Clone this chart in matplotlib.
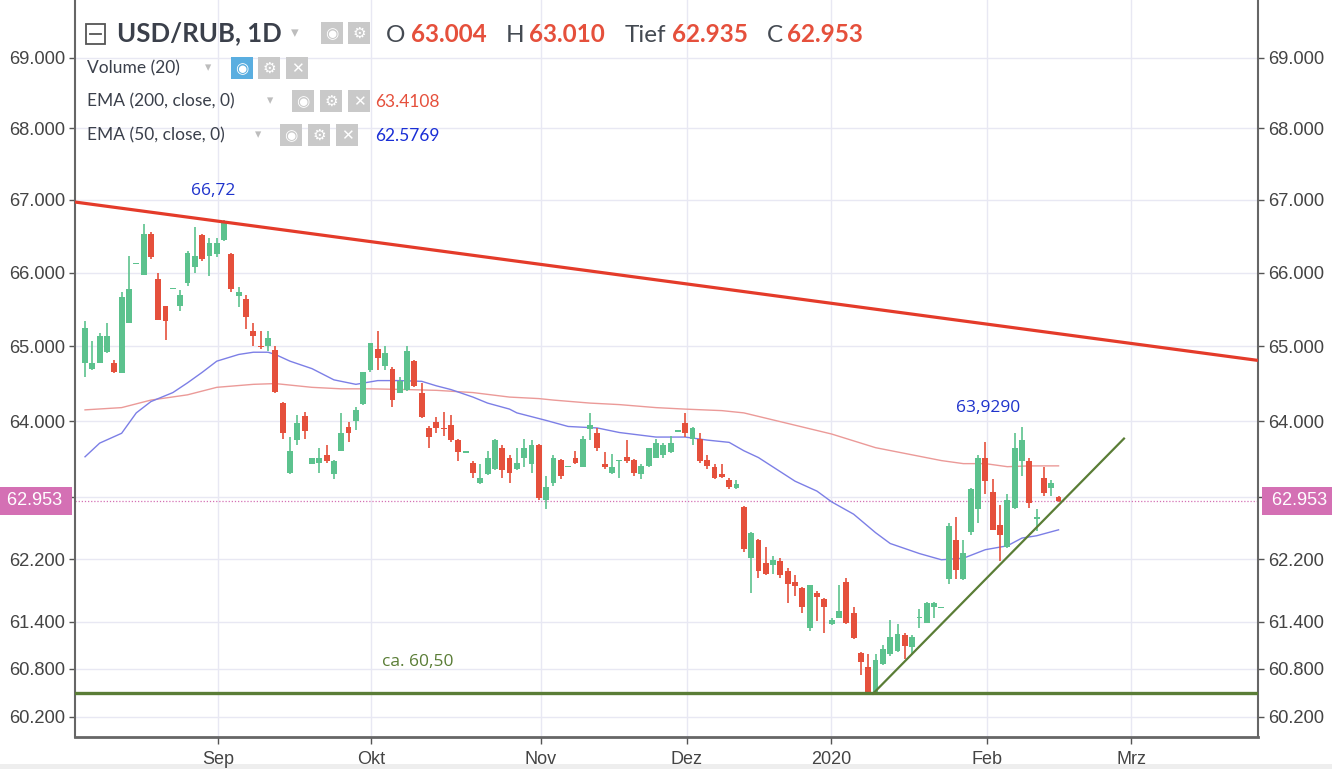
import matplotlib
matplotlib.use("Agg")
import matplotlib.pyplot as plt
from matplotlib.patches import Rectangle
from matplotlib.lines import Line2D
from matplotlib.ticker import FixedLocator, FixedFormatter, NullLocator
import numpy as np

# ---------------- data ----------------
opens = [64.78, 64.70, 64.78, 64.92, 64.78, 64.64, 65.32, 66.11, 65.97, 66.53,
         65.91, 65.54, 65.77, 65.54, 65.86, 66.07, 66.51, 66.23, 66.25, 66.44,
         66.25, 65.68, 65.64, 65.20, 65.01, 65.01, 64.95, 64.24, 63.32, 63.75,
         64.07, 63.44, 63.45, 63.55, 63.31, 63.61, 63.92, 64.00, 64.23, 64.68,
         64.97, 64.74, 64.70, 64.38, 64.41, 64.80, 64.38, 63.91, 63.99, 63.91,
         63.95, 63.75, 63.58, 63.45, 63.19, 63.31, 63.37, 63.64, 63.52, 63.37,
         63.52, 63.44, 63.68, 62.97, 63.19, 63.49, 63.39, 63.52, 63.40, 63.89,
         63.84, 63.43, 63.32, 63.47, 63.53, 63.49, 63.31, 63.41, 63.52, 63.55,
         63.59, 63.86, 63.97, 63.76, 63.77, 63.49, 63.39, 63.31, 63.23, 63.12,
         62.87, 62.21, 62.45, 62.15, 62.12, 62.17, 62.05, 61.90, 61.83, 61.32,
         61.77, 61.69, 61.37, 61.45, 61.90, 61.51, 61.00, 60.83, 60.50, 60.86,
         60.99, 61.03, 61.23, 61.08, 61.44, 61.38, 61.58, 61.57, 61.94, 62.44,
         61.94, 62.55, 62.85, 63.51, 63.07, 62.64, 62.35, 62.86, 63.48, 63.47,
         62.72, 63.25, 63.12, 63.004]
highs = [65.34, 65.07, 65.18, 65.31, 64.81, 65.73, 66.22, 66.13, 66.67, 66.56,
         66.00, 65.55, 65.79, 65.76, 66.29, 66.62, 66.53, 66.48, 66.47, 66.72,
         66.27, 65.80, 65.70, 65.31, 65.20, 65.20, 65.00, 64.25, 63.79, 64.08,
         64.12, 63.52, 63.65, 63.69, 63.49, 64.11, 63.99, 64.19, 64.66, 65.05,
         65.20, 65.01, 64.72, 64.59, 65.00, 64.81, 64.51, 63.93, 64.05, 64.12,
         64.08, 63.76, 63.60, 63.48, 63.43, 63.61, 63.76, 63.68, 63.56, 63.65,
         63.77, 63.75, 63.70, 63.28, 63.55, 63.50, 63.41, 63.61, 63.80, 64.11,
         63.91, 63.59, 63.57, 63.49, 63.75, 63.50, 63.44, 63.65, 63.77, 63.71,
         63.81, 63.88, 64.11, 63.92, 63.85, 63.55, 63.44, 63.44, 63.25, 63.23,
         62.88, 62.55, 62.46, 62.35, 62.24, 62.21, 62.09, 61.99, 61.84, 61.87,
         61.79, 61.70, 61.45, 61.86, 61.96, 61.59, 61.01, 60.99, 60.99, 61.10,
         61.42, 61.37, 61.26, 61.23, 61.56, 61.65, 61.65, 61.59, 62.67, 62.74,
         62.44, 63.12, 63.55, 63.72, 63.24, 62.90, 63.04, 63.85, 63.929, 63.51,
         62.85, 63.40, 63.23, 63.010]
lows = [64.59, 64.68, 64.77, 64.91, 64.64, 64.64, 65.31, 66.11, 65.96, 66.18,
        65.36, 65.08, 65.77, 65.47, 65.81, 66.00, 66.16, 65.95, 66.21, 66.43,
        65.74, 65.53, 65.23, 65.00, 64.96, 64.93, 64.38, 63.77, 63.31, 63.68,
        63.76, 63.43, 63.32, 63.45, 63.24, 63.60, 63.72, 63.88, 64.22, 64.65,
        64.68, 64.68, 64.19, 64.37, 64.40, 64.45, 64.04, 63.64, 63.84, 63.81,
        63.72, 63.48, 63.58, 63.25, 63.17, 63.29, 63.36, 63.25, 63.19, 63.36,
        63.39, 63.32, 62.96, 62.85, 63.15, 63.24, 63.39, 63.44, 63.39, 63.75,
        63.61, 63.37, 63.31, 63.25, 63.45, 63.28, 63.24, 63.39, 63.51, 63.52,
        63.58, 63.86, 63.79, 63.68, 63.45, 63.37, 63.24, 63.25, 63.11, 63.11,
        62.29, 61.77, 61.96, 62.00, 62.01, 61.95, 61.63, 61.73, 61.51, 61.28,
        61.41, 61.26, 61.36, 61.44, 61.37, 61.18, 60.73, 60.49, 60.49, 60.85,
        60.96, 61.01, 60.93, 60.99, 61.32, 61.38, 61.45, 61.57, 61.88, 61.94,
        61.93, 62.51, 62.67, 63.04, 62.57, 62.18, 62.34, 62.85, 63.28, 62.86,
        62.56, 63.01, 63.01, 62.935]
closes = [65.24, 64.78, 65.14, 65.14, 64.65, 65.66, 65.77, 66.13, 66.53, 66.21,
          65.36, 65.34, 65.79, 65.69, 66.27, 66.22, 66.18, 66.41, 66.41, 66.70,
          65.77, 65.74, 65.39, 65.14, 64.99, 65.11, 64.39, 63.84, 63.61, 63.97,
          63.87, 63.51, 63.52, 63.47, 63.47, 63.85, 63.84, 64.15, 64.65, 65.04,
          64.84, 64.91, 64.28, 64.54, 64.93, 64.47, 64.05, 63.79, 63.91, 63.89,
          63.75, 63.59, 63.60, 63.32, 63.25, 63.51, 63.75, 63.35, 63.32, 63.45,
          63.65, 63.68, 62.99, 63.13, 63.51, 63.28, 63.41, 63.45, 63.77, 63.95,
          63.65, 63.39, 63.39, 63.48, 63.48, 63.32, 63.41, 63.64, 63.71, 63.68,
          63.71, 63.88, 63.85, 63.91, 63.47, 63.41, 63.25, 63.27, 63.13, 63.17,
          62.33, 62.54, 62.04, 62.01, 62.19, 61.99, 61.88, 61.85, 61.58, 61.86,
          61.71, 61.58, 61.42, 61.53, 61.38, 61.19, 60.89, 60.50, 60.91, 61.05,
          61.21, 61.24, 61.09, 61.21, 61.45, 61.64, 61.64, 61.59, 62.62, 62.06,
          62.28, 63.11, 63.51, 63.21, 62.58, 62.51, 62.96, 63.64, 63.75, 62.92,
          62.74, 63.05, 63.19, 62.953]

ema50_idx = [0, 2, 5, 7, 9, 12, 14, 16, 18, 21, 23, 25, 26, 28, 31, 34, 37, 40, 43, 46,
             48, 50, 53, 55, 58, 59, 63, 66, 70, 73, 78, 82, 85, 88, 90, 92, 97, 100,
             102, 105, 108, 110, 114, 117, 120, 123, 126, 128, 130, 133]
ema50_val = [63.53, 63.71, 63.84, 64.11, 64.26, 64.38, 64.51, 64.65, 64.80, 64.89,
             64.92, 64.92, 64.89, 64.80, 64.70, 64.55, 64.49, 64.54, 64.54, 64.53,
             64.47, 64.42, 64.32, 64.24, 64.16, 64.11, 64.01, 63.93, 63.91, 63.85,
             63.79, 63.79, 63.75, 63.72, 63.61, 63.52, 63.21, 63.08, 62.94, 62.78,
             62.54, 62.40, 62.27, 62.19, 62.21, 62.32, 62.37, 62.47, 62.50, 62.5769]

ema200_idx = [0, 5, 9, 14, 18, 23, 26, 31, 35, 39, 44, 48, 53, 58, 62, 64, 69, 73, 78,
              82, 87, 90, 96, 102, 108, 117, 120, 123, 126, 129, 133]
ema200_val = [64.15, 64.18, 64.28, 64.35, 64.45, 64.49, 64.50, 64.45, 64.43, 64.43,
              64.42, 64.41, 64.38, 64.32, 64.30, 64.28, 64.24, 64.22, 64.18, 64.16,
              64.14, 64.11, 63.97, 63.83, 63.65, 63.48, 63.44, 63.44, 63.40, 63.41,
              63.4108]

month_labels = ["Sep", "Okt", "Nov", "Dez", "2020", "Feb", "Mrz"]
month_pos = [18.17, 39.07, 62.3, 82.24, 101.9, 123.2, 142.9]

ytick_vals = [60.2, 60.8, 61.4, 62.2, 63.0, 64.0, 65.0, 66.0, 67.0, 68.0, 69.0]
ytick_labels = ["60.200", "60.800", "61.400", "62.200", "", "64.000", "65.000",
                "66.000", "67.000", "68.000", "69.000"]

resistance_x = [-1.37, 160.25]
resistance_y = [66.97, 64.81]
support_trend_x = [107.65, 141.94]
support_trend_y = [60.49, 63.77]
support_level = 60.50
last_close = 62.953

header_ohlc = [("O", "63.004"), ("H", "63.010"), ("Tief", "62.935"), ("C", "62.953")]
ema200_last = "63.4108"
ema50_last = "62.5769"

# ---------------- style ----------------
W, H = 1332, 769
GREEN = "#5cc28e"
RED = "#e5503c"
GRID = "#e8e8f3"
PINK = "#d470b4"
LINE_GREEN = "#5a7d36"
TREND_RED = "#e43b2a"
BLUE_TXT = "#1f33cc"
TICK_FONT = ["Liberation Sans", "DejaVu Sans"]
UI_FONT = ["Lato", "DejaVu Sans"]

fig = plt.figure(figsize=(W / 100, H / 100), dpi=100)
fig.patch.set_facecolor("white")
ax = fig.add_axes([75 / W, 1 - 737 / H, (1258 - 75) / W, 737 / H])

ax.set_yscale("log")
ax.set_ylim(59.95, 69.83)
ax.set_xlim(-1.37, 160.25)

# grid / ticks
ax.yaxis.set_major_locator(FixedLocator(ytick_vals))
ax.yaxis.set_major_formatter(FixedFormatter(ytick_labels))
ax.yaxis.set_minor_locator(NullLocator())
ax.xaxis.set_major_locator(FixedLocator(month_pos))
ax.xaxis.set_major_formatter(FixedFormatter(month_labels))
ax.grid(True, color=GRID, lw=1.0, zorder=0)
ax.tick_params(axis="y", which="both", left=True, right=True, labelleft=True,
               labelright=True, length=4, width=1, color="#555555",
               labelsize=13.2, labelcolor="#444444", pad=3)
ax.tick_params(axis="x", length=5, width=1, color="#555555", labelsize=13,
               labelcolor="#444444", pad=5)
for t in ax.yaxis.get_major_ticks():
    t.label1.set_family(TICK_FONT)
    t.label2.set_family(TICK_FONT)
for t in ax.xaxis.get_major_ticks():
    t.label1.set_family(TICK_FONT)

for side in ["left", "right"]:
    ax.spines[side].set_color("#666666")
    ax.spines[side].set_linewidth(1.5)
ax.spines["bottom"].set_color("#666666")
ax.spines["bottom"].set_linewidth(2)
ax.spines["top"].set_visible(False)

# candles
o = np.array(opens); h = np.array(highs); l = np.array(lows); c = np.array(closes)
x = np.arange(len(o))
up = c >= o
cols = np.where(up, GREEN, RED)
ax.vlines(x, l, h, colors=cols, lw=1.2, zorder=4)
bot = np.minimum(o, c)
hgt = np.maximum(np.abs(c - o), 0.015)
ax.bar(x, hgt, bottom=bot, width=0.8, color=cols, lw=0, zorder=5)

# EMAs
ax.plot(ema200_idx, ema200_val, color="#eb9a98", lw=1.0, zorder=3)
ax.plot(ema50_idx, ema50_val, color="#7c7fe6", lw=1.0, zorder=3)

# last price line
ax.axhline(last_close, color=PINK, lw=0.9, ls=(0, (1, 1.5)), zorder=2)

# trendlines
ax.plot(resistance_x, resistance_y, color=TREND_RED, lw=2.3, zorder=6, solid_capstyle="butt")
ax.axhline(support_level, color=LINE_GREEN, lw=2.4, zorder=6)
ax.plot(support_trend_x, support_trend_y, color=LINE_GREEN, lw=1.6, zorder=6)

# annotations
ann_font = ["Open Sans", "DejaVu Sans"]
ax.text(17.5, 67.12, "66,72", color=BLUE_TXT, fontsize=12.5, ha="center", va="center",
        family=ann_font)
ax.text(123.4, 64.17, "63,9290", color=BLUE_TXT, fontsize=12.5, ha="center", va="center",
        family=ann_font)
ax.text(45.5, 60.89, "ca. 60,50", color=LINE_GREEN, fontsize=12.5, ha="center", va="center",
        family=ann_font)

# price labels
for xa, off, ha in [(0, -8, "right"), (1, 9, "left")]:
    ax.annotate(" %.3f " % last_close, xy=(xa, last_close),
                xycoords=("axes fraction", "data"), xytext=(off, 0),
                textcoords="offset pixels", ha=ha, va="center", color="white",
                fontsize=13, family=TICK_FONT, annotation_clip=False, zorder=10,
                bbox=dict(boxstyle="square,pad=0.3", fc=PINK, ec="none"))

# ---------------- header (pixel layout) ----------------
def fx(px):
    return px / W

def fy(py):
    return 1 - py / H

def ftext(px, py, s, **kw):
    kw.setdefault("va", "center")
    kw.setdefault("ha", "left")
    fig.text(fx(px), fy(py), s, **kw)

def icon(px, py, sym, bg="#c9c9c9", size=22, fs=11):
    fig.add_artist(Rectangle((fx(px), fy(py + size)), size / W, size / H,
                             transform=fig.transFigure, fc=bg, ec="none", zorder=20))
    ftext(px + size / 2, py + size / 2 + 0.5, sym, ha="center", color="white",
          fontsize=fs, family=["DejaVu Sans"], zorder=21, weight="bold")

# collapse box
fig.add_artist(Rectangle((fx(86), fy(44)), 19 / W, 20 / H, transform=fig.transFigure,
                         fill=False, ec="#555555", lw=1.3, zorder=20))
fig.add_artist(Line2D([fx(90), fx(101)], [fy(34), fy(34)], transform=fig.transFigure,
                      color="#555555", lw=1.3, zorder=20))
ftext(117, 33, "USD/RUB, 1D", fontsize=18.5, weight="bold", color="#3b404b", family=UI_FONT)
ftext(291, 33, "▾", fontsize=11, color="#bdbdbd", family=["DejaVu Sans"])
icon(321, 22, "◉")
icon(348, 22, "⚙")

xpos = [(386, 411), (506, 529), (625, 672), (767, 787)]
for (lbl, val), (xl, xv) in zip(header_ohlc, xpos):
    ftext(xl, 35, lbl, fontsize=17.5, color="#444a52", family=UI_FONT)
    ftext(xv, 35, val, fontsize=17.5, color=RED, family=UI_FONT, weight="bold")

rows = [
    (68, "Volume (20)", 205, [(231, "◉", "#5aaee0"), (258, "⚙", "#c9c9c9"), (286, "✕", "#c9c9c9")], None, None),
    (101, "EMA (200, close, 0)", 267, [(292, "◉", "#c9c9c9"), (320, "⚙", "#c9c9c9"), (348, "✕", "#c9c9c9")], ema200_last, RED),
    (135, "EMA (50, close, 0)", 255, [(280, "◉", "#c9c9c9"), (308, "⚙", "#c9c9c9"), (336, "✕", "#c9c9c9")], ema50_last, "#1a2fd6"),
]
for yrow, name, xarrow, icons, val, vcol in rows:
    ftext(87, yrow, name, fontsize=12.5, color="#3b404b", family=UI_FONT)
    ftext(xarrow, yrow, "▾", fontsize=9, color="#bdbdbd", family=["DejaVu Sans"])
    for xi, sym, bg in icons:
        icon(xi, yrow - 11, sym, bg=bg)
    if val is not None:
        ftext(375, yrow + 1, val, fontsize=12.5, color=vcol, family=UI_FONT)

# bottom strip
fig.add_artist(Rectangle((0, 0), 1, 5 / H, transform=fig.transFigure, fc="#eeeeee",
                         ec="none", zorder=0))

fig.savefig("out.png", dpi=100, facecolor="white")
